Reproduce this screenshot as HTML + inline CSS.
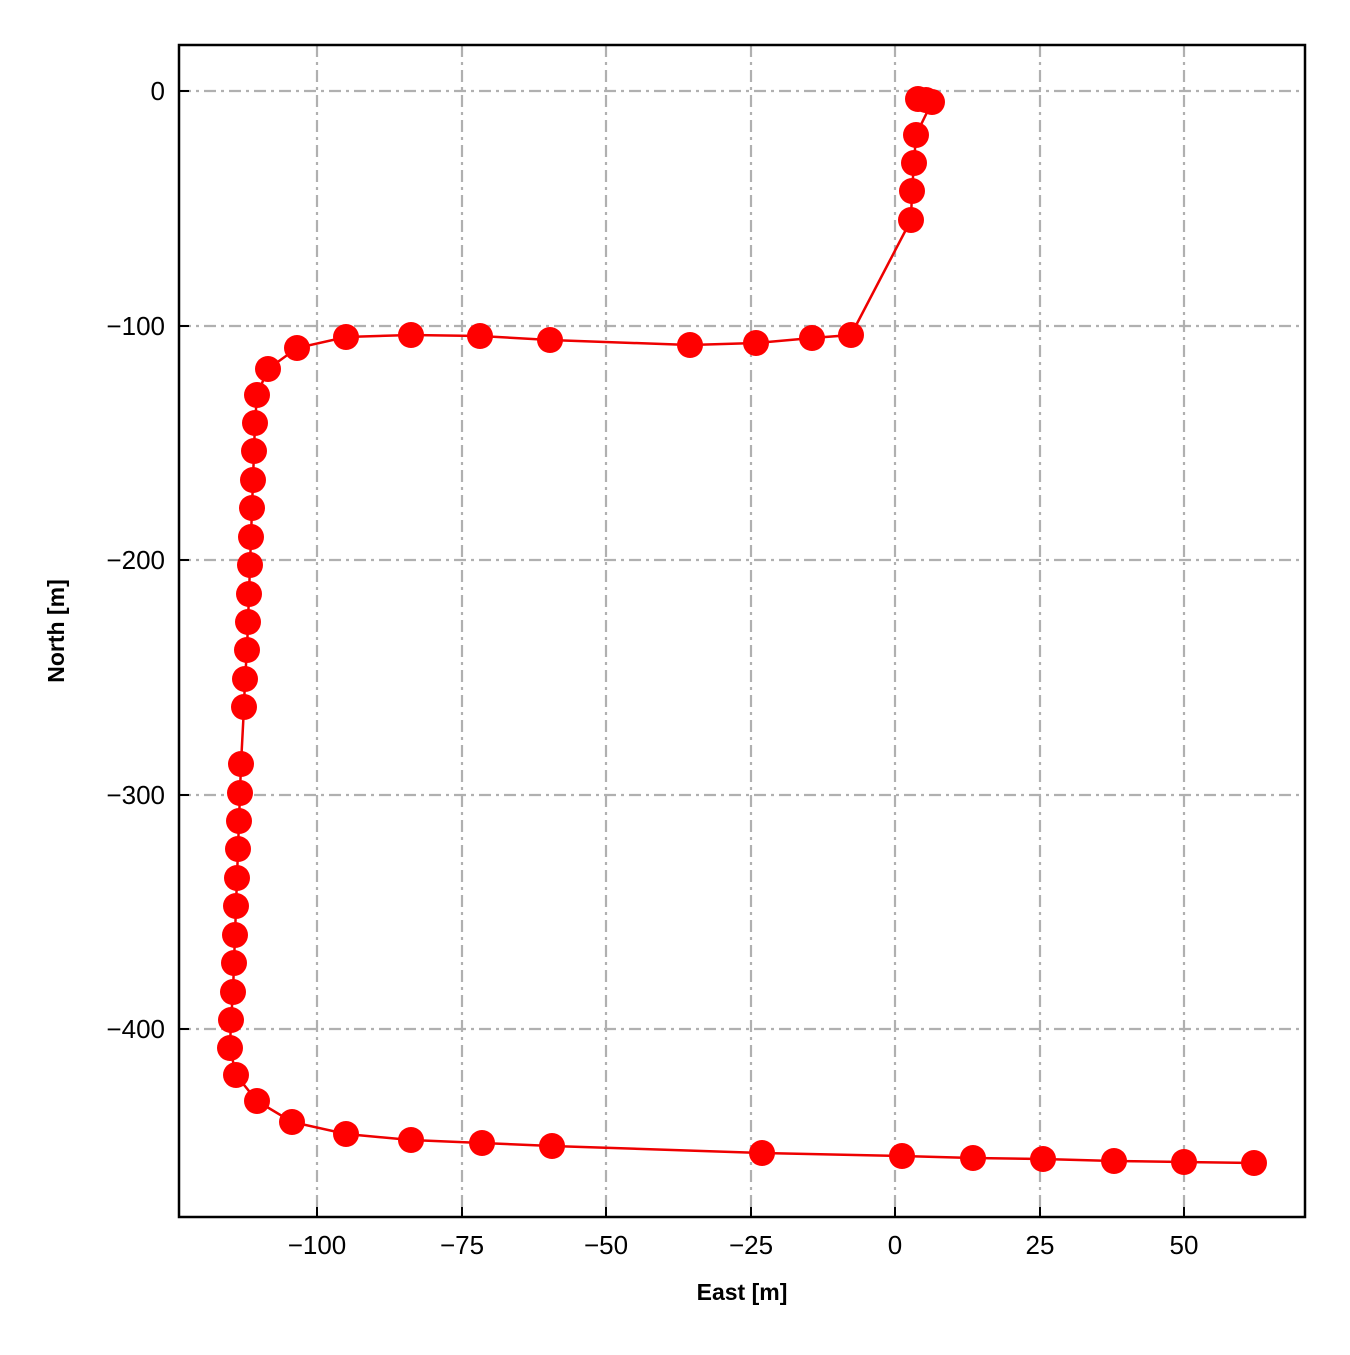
<!DOCTYPE html>
<html><head><style>body{margin:0;background:#fff}</style></head><body>
<svg width="1350" height="1350" xmlns="http://www.w3.org/2000/svg" font-family="Liberation Sans, sans-serif">
<rect width="1350" height="1350" fill="#fff"/>
<g stroke="#b0b0b0" stroke-width="2.2" stroke-dasharray="12,5,3,5">
<line x1="317" y1="45" x2="317" y2="1217"/><line x1="462" y1="45" x2="462" y2="1217"/><line x1="606" y1="45" x2="606" y2="1217"/><line x1="751" y1="45" x2="751" y2="1217"/><line x1="895" y1="45" x2="895" y2="1217"/><line x1="1040" y1="45" x2="1040" y2="1217"/><line x1="1184" y1="45" x2="1184" y2="1217"/>
<line x1="179" y1="91" x2="1305" y2="91"/><line x1="179" y1="326" x2="1305" y2="326"/><line x1="179" y1="560" x2="1305" y2="560"/><line x1="179" y1="795" x2="1305" y2="795"/><line x1="179" y1="1029" x2="1305" y2="1029"/>
</g>
<g id="pts">
<polyline fill="none" stroke="#e00" stroke-width="2.5" points="918,99 926,100 932,102 916,135 914,163 912,191 911,220 851,335 812,338 756,343 690,345 550,340 480,336 411,335 346,337 297,348 268,369 257,395 255,423 254,451 253,480 252,508 251,537 250,565 249,594 248,622 247,650 245,679 244,707 241,764 240,793 239,821 238,849 237,878 236,906 235,935 234,963 233,992 231,1020 230,1048 236,1075 257,1101 292,1122 346,1134 411,1140 482,1143 552,1146 762,1153 902,1156 973,1158 1043,1159 1114,1161 1184,1162 1254,1163"/>
<g fill="#f00">
<circle cx="918" cy="99" r="13"/><circle cx="926" cy="100" r="13"/><circle cx="932" cy="102" r="13"/><circle cx="916" cy="135" r="13"/><circle cx="914" cy="163" r="13"/><circle cx="912" cy="191" r="13"/><circle cx="911" cy="220" r="13"/><circle cx="851" cy="335" r="13"/><circle cx="812" cy="338" r="13"/><circle cx="756" cy="343" r="13"/><circle cx="690" cy="345" r="13"/><circle cx="550" cy="340" r="13"/><circle cx="480" cy="336" r="13"/><circle cx="411" cy="335" r="13"/><circle cx="346" cy="337" r="13"/><circle cx="297" cy="348" r="13"/><circle cx="268" cy="369" r="13"/><circle cx="257" cy="395" r="13"/><circle cx="255" cy="423" r="13"/><circle cx="254" cy="451" r="13"/><circle cx="253" cy="480" r="13"/><circle cx="252" cy="508" r="13"/><circle cx="251" cy="537" r="13"/><circle cx="250" cy="565" r="13"/><circle cx="249" cy="594" r="13"/><circle cx="248" cy="622" r="13"/><circle cx="247" cy="650" r="13"/><circle cx="245" cy="679" r="13"/><circle cx="244" cy="707" r="13"/><circle cx="241" cy="764" r="13"/><circle cx="240" cy="793" r="13"/><circle cx="239" cy="821" r="13"/><circle cx="238" cy="849" r="13"/><circle cx="237" cy="878" r="13"/><circle cx="236" cy="906" r="13"/><circle cx="235" cy="935" r="13"/><circle cx="234" cy="963" r="13"/><circle cx="233" cy="992" r="13"/><circle cx="231" cy="1020" r="13"/><circle cx="230" cy="1048" r="13"/><circle cx="236" cy="1075" r="13"/><circle cx="257" cy="1101" r="13"/><circle cx="292" cy="1122" r="13"/><circle cx="346" cy="1134" r="13"/><circle cx="411" cy="1140" r="13"/><circle cx="482" cy="1143" r="13"/><circle cx="552" cy="1146" r="13"/><circle cx="762" cy="1153" r="13"/><circle cx="902" cy="1156" r="13"/><circle cx="973" cy="1158" r="13"/><circle cx="1043" cy="1159" r="13"/><circle cx="1114" cy="1161" r="13"/><circle cx="1184" cy="1162" r="13"/><circle cx="1254" cy="1163" r="13"/>
</g></g>
<rect x="179" y="45" width="1126" height="1172" fill="none" stroke="#000" stroke-width="2.5"/>
<g stroke="#000" stroke-width="2">
<path d="M317 1217v-10M462 1217v-10M606 1217v-10M751 1217v-10M895 1217v-10M1040 1217v-10M1184 1217v-10M179 91h10M179 326h10M179 560h10M179 795h10M179 1029h10"/>
</g>
<g font-size="26" fill="#000" text-anchor="middle">
<text x="317" y="1254">−100</text><text x="462" y="1254">−75</text><text x="606" y="1254">−50</text><text x="751" y="1254">−25</text><text x="895" y="1254">0</text><text x="1040" y="1254">25</text><text x="1184" y="1254">50</text>
</g>
<g font-size="26" fill="#000" text-anchor="end">
<text x="165" y="100">0</text><text x="165" y="335">−100</text><text x="165" y="569">−200</text><text x="165" y="804">−300</text><text x="165" y="1038">−400</text>
</g>
<text x="742" y="1300" font-size="23" font-weight="bold" text-anchor="middle">East [m]</text>
<text transform="translate(64,631) rotate(-90)" font-size="23" font-weight="bold" text-anchor="middle">North [m]</text>
</svg>
</body></html>
